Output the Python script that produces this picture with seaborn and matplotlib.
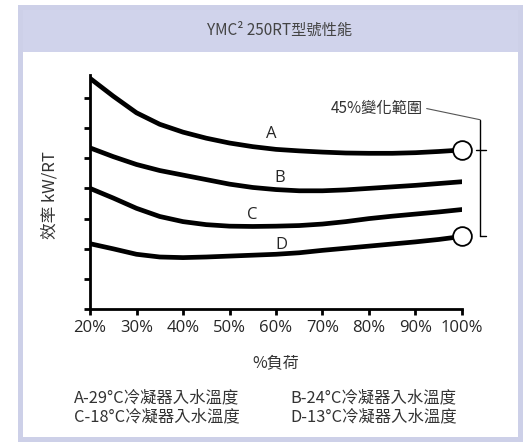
import pandas as pd
import seaborn as sns
import matplotlib.pyplot as plt
from matplotlib.patches import Rectangle

# 負荷 (%) 與效率曲線 (讀圖估計值, y 軸無刻度數字)
load_pct = [20, 25, 30, 35, 40, 45, 50, 55, 60, 65, 70, 75, 80, 85, 90, 95, 100]
curve_a = [7.64, 7.05, 6.50, 6.12, 5.86, 5.66, 5.50, 5.38, 5.29, 5.24, 5.20, 5.17, 5.16, 5.16, 5.18, 5.22, 5.27]
curve_b = [5.34, 5.05, 4.79, 4.59, 4.44, 4.29, 4.14, 4.03, 3.96, 3.92, 3.92, 3.95, 4.00, 4.05, 4.10, 4.16, 4.22]
curve_c = [4.00, 3.68, 3.34, 3.07, 2.90, 2.80, 2.75, 2.74, 2.75, 2.77, 2.82, 2.90, 3.00, 3.08, 3.15, 3.22, 3.30]
curve_d = [2.17, 2.00, 1.82, 1.73, 1.71, 1.73, 1.76, 1.79, 1.82, 1.87, 1.95, 2.02, 2.09, 2.16, 2.23, 2.31, 2.41]
curve_names = ["A", "B", "C", "D"]
x_ticks = [20, 30, 40, 50, 60, 70, 80, 90, 100]
x_tick_labels = ["20%", "30%", "40%", "50%", "60%", "70%", "80%", "90%", "100%"]
legend_lines = ["A-29°C冷凝器入水溫度", "B-24°C冷凝器入水溫度",
                "C-18°C冷凝器入水溫度", "D-13°C冷凝器入水溫度"]

df = pd.concat([
    pd.DataFrame({"load": load_pct, "eff": vals, "curve": name})
    for name, vals in zip(curve_names, [curve_a, curve_b, curve_c, curve_d])
])

sns.set_style("white")
plt.rcParams['font.family'] = ['Noto Sans CJK TC', 'DejaVu Sans']

W, H = 530, 442
fig = plt.figure(figsize=(W / 100, H / 100), dpi=100)

# 外框與標題列
fig.patches.append(Rectangle((20 / W, 1 - 52 / H), 500 / W, 45 / H, transform=fig.transFigure,
                             facecolor='#d0d3eb', edgecolor='none', zorder=0))
fig.patches.append(Rectangle((20 / W, 1 - 439 / H), 500 / W, 432 / H, transform=fig.transFigure,
                             fill=False, edgecolor='#cdd0e8', linewidth=3.6, zorder=1))
fig.text(280 / W, 1 - 30 / H, "YMC² 250RT型號性能", ha='center', va='center',
         fontsize=11, color='#444444')

ax = fig.add_axes([90 / W, 1 - 309.3 / H, 372 / W, 234.3 / H])
sns.lineplot(data=df, x="load", y="eff", units="curve", estimator=None,
             color='black', linewidth=3.4, ax=ax, legend=False)

# 100% 負荷處的圓圈
ax.plot([load_pct[-1], load_pct[-1]], [curve_a[-1], curve_d[-1]], linestyle='none',
        marker='o', markersize=13.5, markerfacecolor='white', markeredgecolor='black',
        markeredgewidth=1.3, clip_on=False, zorder=5)

# 曲線標籤
label_pos = {"A": (58.9, 5.79), "B": (60.9, 4.35), "C": (54.8, 3.13), "D": (61.2, 2.14)}
for name in curve_names:
    x, y = label_pos[name]
    ax.text(x, y, name, ha='center', va='center', fontsize=12,
            family=['Open Sans', 'DejaVu Sans'])

# 45% 變化範圍括號
bx = 103.9
ax.plot([bx, bx], [6.27, curve_d[-1]], color='black', lw=1, clip_on=False)
ax.plot([103.0, 105.2], [curve_a[-1], curve_a[-1]], color='black', lw=1, clip_on=False)
ax.plot([bx, 105.2], [curve_d[-1], curve_d[-1]], color='black', lw=1, clip_on=False)
ax.plot([92.4, bx], [6.64, 6.27], color='#555555', lw=0.8, clip_on=False)
ax.text(91.6, 6.65, "45%變化範圍", ha='right', va='center', fontsize=11, color='#333333')

ax.set_xlim(20, 100)
ax.set_ylim(0, 7.75)
ax.set_xticks(x_ticks)
ax.set_xticklabels(x_tick_labels, family=['Open Sans', 'DejaVu Sans'], fontsize=12)
ax.set_yticks([0, 1, 2, 3, 4, 5, 6, 7])
ax.set_yticklabels([])
ax.set_xlabel("")
ax.set_ylabel("")
for side in ['top', 'right']:
    ax.spines[side].set_visible(False)
for side in ['left', 'bottom']:
    ax.spines[side].set_linewidth(2)
    ax.spines[side].set_color('black')
ax.tick_params(axis='both', bottom=True, left=True, direction='out', length=4,
               width=2, color='black', pad=4)
ax.patch.set_alpha(0)

fig.text(50 / W, 1 - 195 / H, "效率 kW/RT", rotation=90, ha='center', va='center',
         fontsize=12, color='#333333')
fig.text(276 / W, 1 - 363 / H, "%負荷", ha='center', va='center', fontsize=11.5, color='#333333')

fig.text(74 / W, 1 - 398 / H, legend_lines[0], ha='left', va='center', fontsize=11.8, color='#333333')
fig.text(290 / W, 1 - 398 / H, legend_lines[1], ha='left', va='center', fontsize=11.8, color='#333333')
fig.text(74 / W, 1 - 417 / H, legend_lines[2], ha='left', va='center', fontsize=11.8, color='#333333')
fig.text(290 / W, 1 - 417 / H, legend_lines[3], ha='left', va='center', fontsize=11.8, color='#333333')

fig.savefig("out.png", dpi=100)
